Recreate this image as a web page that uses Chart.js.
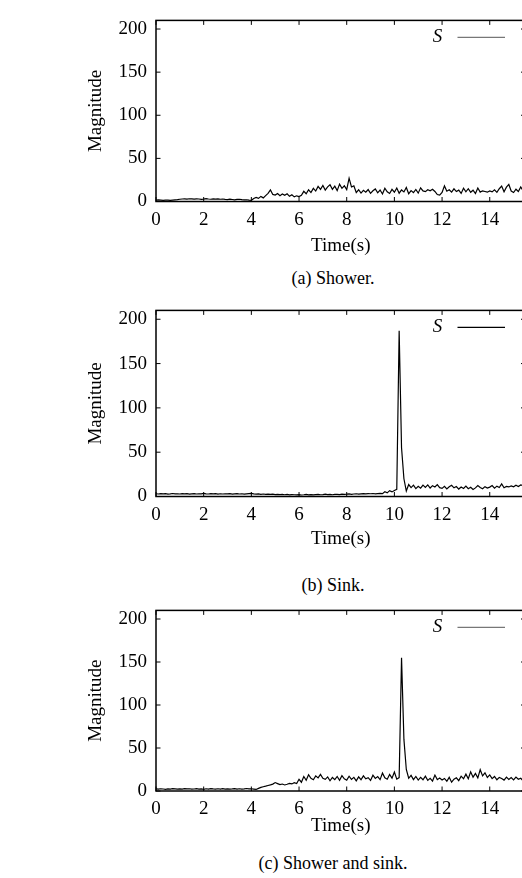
<!DOCTYPE html>
<html>
<head>
<meta charset="utf-8">
<script src="https://cdn.jsdelivr.net/npm/chart.js@4.4.1/dist/chart.umd.min.js"></script>
<style>
html,body{margin:0;padding:0;background:#fff;overflow:hidden;}
body{width:522px;height:878px;position:relative;}
canvas{position:absolute;left:0;}
.cap{position:absolute;left:183px;width:300px;text-align:center;font-family:"Liberation Serif",serif;font-size:18px;line-height:20px;color:#000;}
</style>
</head>
<body>
<canvas id="c1" width="530" height="262" style="top:0px"></canvas>
<div class="cap" style="top:268px">(a) Shower.</div>
<canvas id="c2" width="530" height="265" style="top:290px"></canvas>
<div class="cap" style="top:575px">(b) Sink.</div>
<canvas id="c3" width="530" height="250" style="top:590px"></canvas>
<div class="cap" style="top:853px">(c) Shower and sink.</div>
<script>
// ---- data (sampled every 0.1 s) ----
const timeStep = 0.1;
const xTicks = [0, 2, 4, 6, 8, 10, 12, 14];
const yTicks = [0, 50, 100, 150, 200];
const seriesLabel = "S";

const showerValues = [
  1.5,1.8,1.6,1.4,1.7,1.5,1.3,1.6,1.9,2.2,
  2.6,2.9,3.1,2.8,3.2,3.0,2.7,3.1,2.9,2.5,
  2.8,3.3,2.9,2.6,3.1,2.7,3.0,2.6,2.9,2.4,
  2.2,2.7,2.3,1.9,2.4,2.6,2.1,1.8,2.0,1.6,
  1.4,3.5,4.8,3.6,5.9,4.2,6.8,9.5,13.5,8.2,
  7.4,9.3,6.8,8.7,7.1,8.9,6.0,7.8,5.4,6.6,
  5.8,7.2,11.8,9.0,13.6,10.4,15.2,12.1,17.5,14.0,
  18.6,13.2,16.9,19.4,14.1,17.8,12.6,20.1,15.3,18.2,
  13.7,27.0,16.8,18.1,10.4,13.6,9.8,12.9,10.7,13.8,
  9.5,12.4,14.6,10.1,13.3,8.7,15.4,11.2,9.3,14.1,
  10.8,15.6,9.6,13.4,11.1,16.2,8.9,12.7,10.2,13.9,
  9.7,15.8,12.3,11.4,13.7,12.5,14.2,11.6,8.1,7.4,
  10.6,18.1,11.9,13.6,10.8,14.7,11.5,13.2,9.4,15.4,
  11.3,14.8,10.7,13.1,9.2,15.6,10.9,12.4,11.6,10.8,
  12.2,11.1,13.5,10.6,14.8,17.9,11.3,16.6,19.8,12.1,
  10.4,14.2,11.6,16.8,12.3,14.9
];

const sinkValues = [
  3.1,2.8,3.3,2.9,3.2,2.7,3.0,3.4,2.9,3.1,
  2.8,3.2,2.9,3.3,2.7,3.0,3.2,2.8,3.1,2.9,
  3.6,3.0,2.8,3.2,2.9,3.3,2.7,3.1,2.8,3.0,
  2.9,3.2,2.7,3.0,3.3,2.8,3.1,2.6,2.9,3.2,
  3.5,3.0,2.6,2.9,2.5,2.8,2.3,2.7,2.4,2.6,
  2.2,2.5,2.1,2.4,2.0,2.3,1.9,2.2,2.0,1.8,
  2.1,1.7,2.0,2.4,1.9,2.2,1.8,2.1,2.3,2.0,
  2.2,2.6,2.1,2.4,2.0,2.3,2.5,2.2,2.7,2.4,
  2.6,2.9,2.5,2.8,3.1,2.7,3.0,3.2,2.9,3.3,
  3.1,3.4,3.0,3.3,3.6,3.2,5.4,4.1,6.6,5.2,
  6.8,8.0,187.0,55.0,20.0,6.2,13.5,10.1,12.8,8.9,
  11.6,9.4,12.9,10.3,13.1,9.6,12.2,10.8,13.4,10.0,
  9.2,11.5,8.6,10.9,12.6,9.8,11.3,8.4,10.7,9.1,
  11.8,8.8,10.4,7.9,9.7,12.4,10.2,8.7,11.1,9.5,
  10.6,12.3,9.4,11.7,10.1,14.2,9.9,11.4,10.8,12.0,
  10.9,12.7,11.3,13.1,12.2,13.8
];

const bothValues = [
  2.4,2.1,2.6,2.3,2.0,2.5,2.2,2.7,2.4,2.1,
  2.5,2.2,2.8,2.4,2.6,2.1,2.3,2.7,2.2,2.5,
  2.0,2.6,2.3,2.8,2.4,2.1,2.6,2.3,2.7,2.2,
  2.5,2.1,2.4,2.8,2.3,2.6,2.2,2.5,2.9,2.4,
  2.6,2.2,1.8,3.0,4.2,4.9,5.6,6.4,7.1,8.0,
  9.8,8.6,7.4,8.1,7.0,7.8,8.9,8.2,9.6,8.7,
  13.6,10.2,16.8,12.4,18.9,14.7,13.1,17.6,15.2,19.3,
  14.8,13.6,16.4,11.9,15.7,13.2,16.9,12.5,17.8,14.1,
  12.6,17.2,13.5,15.8,11.8,16.4,13.1,17.6,14.2,15.5,
  12.3,18.4,14.6,16.7,13.2,20.8,15.3,13.7,19.2,14.9,
  22.1,13.8,15.6,155.0,60.0,25.0,14.8,18.2,13.3,16.9,
  12.7,15.9,13.1,17.3,12.4,14.8,11.6,18.5,13.2,15.1,
  12.8,14.6,11.4,15.9,10.2,13.7,15.4,12.1,17.2,14.3,
  19.6,14.2,22.3,16.1,20.4,15.3,24.8,17.6,21.2,15.8,
  18.7,14.4,16.9,13.1,15.8,14.5,12.7,16.2,13.4,15.7,
  12.9,16.1,13.6,14.8,11.9,15.2
];

const times = showerValues.map((_, i) => +(i * timeStep).toFixed(1));

const FONT = '"Liberation Serif", serif';

const framePlugin = {
  id: 'frame',
  afterDatasetsDraw(chart, args, opts) {
    const {ctx, chartArea: {left, right, top, bottom}, scales: {x, y}} = chart;
    ctx.save();
    ctx.strokeStyle = '#000';
    ctx.lineWidth = 1;
    const tl = 4.5;
    ctx.beginPath();
    x.ticks.forEach(t => {
      const px = x.getPixelForValue(t.value);
      ctx.moveTo(px, bottom); ctx.lineTo(px, bottom - tl);
      ctx.moveTo(px, top); ctx.lineTo(px, top + tl);
    });
    y.ticks.forEach(t => {
      const py = y.getPixelForValue(t.value);
      ctx.moveTo(left, py); ctx.lineTo(left + tl, py);
      ctx.moveTo(right, py); ctx.lineTo(right - tl, py);
    });
    ctx.stroke();
    ctx.lineWidth = 1.5;
    ctx.strokeRect(left, top, right - left, bottom - top);
    // key
    const ky = top + 17;
    ctx.fillStyle = '#000';
    ctx.font = 'italic 19px ' + FONT;
    ctx.textAlign = 'center';
    ctx.textBaseline = 'middle';
    ctx.fillText(chart.data.datasets[0].label, right - 88, ky);
    ctx.strokeStyle = opts.keyColor || '#000';
    ctx.lineWidth = 1.2;
    ctx.beginPath();
    ctx.moveTo(right - 68, ky); ctx.lineTo(right - 20.5, ky);
    ctx.stroke();
    ctx.restore();
  }
};

function makeChart(id, values, cfg) {
  const ctx = document.getElementById(id);
  return new Chart(ctx, {
    type: 'line',
    data: {
      labels: times,
      datasets: [{
        label: seriesLabel,
        data: values,
        borderColor: '#000',
        borderWidth: 1.2,
        pointRadius: 0,
        tension: 0,
        fill: false
      }]
    },
    plugins: [framePlugin],
    options: {
      responsive: false,
      animation: false,
      devicePixelRatio: 1,
      layout: {padding: {top: cfg.padTop, right: 4.5, left: 0, bottom: 0}},
      plugins: {
        legend: {display: false},
        tooltip: {enabled: false},
        frame: {keyColor: cfg.keyColor}
      },
      scales: {
        x: {
          type: 'linear',
          min: 0, max: 15.5,
          grid: {display: false, drawTicks: false},
          border: {display: false},
          afterBuildTicks: s => { s.ticks = xTicks.map(v => ({value: v})); },
          ticks: {includeBounds: false, stepSize: 2, padding: 7, color: '#000', maxRotation: 0, autoSkip: false,
                  font: {family: FONT, size: 19}},
          title: {display: true, text: 'Time(s)', color: '#000', font: {family: FONT, size: 19},
                  padding: {top: 0, bottom: cfg.xTitlePad}},
          afterFit: s => { s.height = cfg.xHeight; }
        },
        y: {
          min: 0, max: 210,
          grid: {display: false, drawTicks: false},
          border: {display: false},
          afterBuildTicks: s => { s.ticks = yTicks.map(v => ({value: v})); },
          ticks: {includeBounds: false, stepSize: 50, padding: 9, color: '#000',
                  font: {family: FONT, size: 19}},
          title: {display: true, text: 'Magnitude', color: '#000', font: {family: FONT, size: 19},
                  padding: {top: 85, bottom: 0}},
          afterFit: s => { s.width = 156; }
        }
      }
    }
  });
}

makeChart('c1', showerValues, {padTop: 15, xHeight: 60.5, xTitlePad: 5, keyColor: '#777'});
makeChart('c2', sinkValues,   {padTop: 20, xHeight: 58.5, xTitlePad: 5, keyColor: '#000'});
makeChart('c3', bothValues,   {padTop: 15, xHeight: 49,   xTitlePad: 3, keyColor: '#777'});
</script>
</body>
</html>
